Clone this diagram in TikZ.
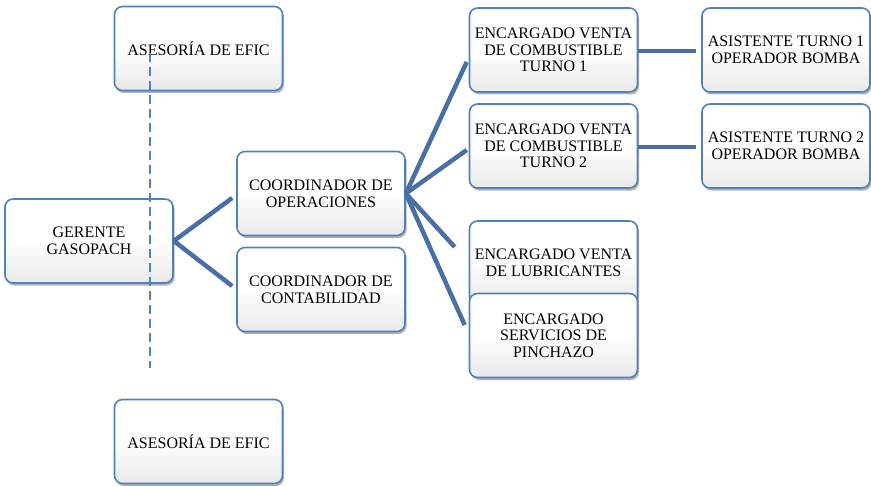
\documentclass[tikz,border=0pt]{standalone}
\usepackage{fontspec}
\setmainfont{Liberation Serif}
\usetikzlibrary{shadows}
\definecolor{boxblue}{HTML}{4F81BD}
\definecolor{linkblue}{HTML}{4A6FA5}
\tikzset{
  orgbox/.style={draw=boxblue, line width=1.6pt, rounded corners=8pt,
    minimum width=168pt, minimum height=84pt, inner sep=0pt,
    top color=white, bottom color=black!9, middle color=white,
    drop shadow={shadow xshift=1.5pt, shadow yshift=-2.5pt, opacity=0.3, fill=black},
    align=center, font=\fontsize{16}{16.7}\selectfont},
  conn/.style={draw=linkblue, line width=4.5pt},
  dashline/.style={draw=boxblue, line width=2pt, dash pattern=on 9pt off 5pt}
}
\begin{document}
\begin{tikzpicture}[x=1pt,y=-1pt]
\useasboundingbox (0,0) rectangle (871,487);
\node[orgbox] (ase1) at (198.5,48.5) {ASESORÍA DE EFIC};
\node[orgbox] (ger) at (89,241) {GERENTE\\GASOPACH};
\node[orgbox] (ase2) at (198.5,441.5) {ASESORÍA DE EFIC};
\node[orgbox] (cop) at (321,193.5) {COORDINADOR DE\\OPERACIONES};
\node[orgbox] (cco) at (321,289.5) {COORDINADOR DE\\CONTABILIDAD};
\node[orgbox] (t1) at (553.5,50) {ENCARGADO VENTA\\DE COMBUSTIBLE\\TURNO 1};
\node[orgbox] (t2) at (553.5,146) {ENCARGADO VENTA\\DE COMBUSTIBLE\\TURNO 2};
\node[orgbox] (lub) at (553.5,263) {ENCARGADO VENTA\\DE LUBRICANTES};
\node[orgbox] (pin) at (553.5,335.5) {ENCARGADO\\SERVICIOS DE\\PINCHAZO};
\node[orgbox] (a1) at (786,50) {ASISTENTE TURNO 1\\OPERADOR BOMBA};
\node[orgbox] (a2) at (786,146) {ASISTENTE TURNO 2\\OPERADOR BOMBA};
\draw[conn] (ger.east) -- ([xshift=-4pt,yshift=-4.5pt]cop.west);
\draw[conn] (ger.east) -- ([xshift=-4pt,yshift=3.5pt]cco.west);
\draw[conn] (cop.east) -- ([xshift=-2pt,yshift=-12pt]t1.west);
\draw[conn] (cop.east) -- ([xshift=-2pt,yshift=-4pt]t2.west);
\draw[conn] (cop.east) -- ([xshift=-14pt,yshift=16pt]lub.west);
\draw[conn] (cop.east) -- ([xshift=-4pt,yshift=10.5pt]pin.west);
\draw[conn] ([yshift=-1pt]t1.east) -- ([xshift=-5pt,yshift=-1pt]a1.west);
\draw[conn] ([yshift=-1pt]t2.east) -- ([xshift=-5pt,yshift=-1pt]a2.west);
\coordinate (dtop) at (150,53);
\coordinate (dbot) at (150,368);
\draw[dashline] (dtop) -- (dbot);
\end{tikzpicture}
\end{document}
